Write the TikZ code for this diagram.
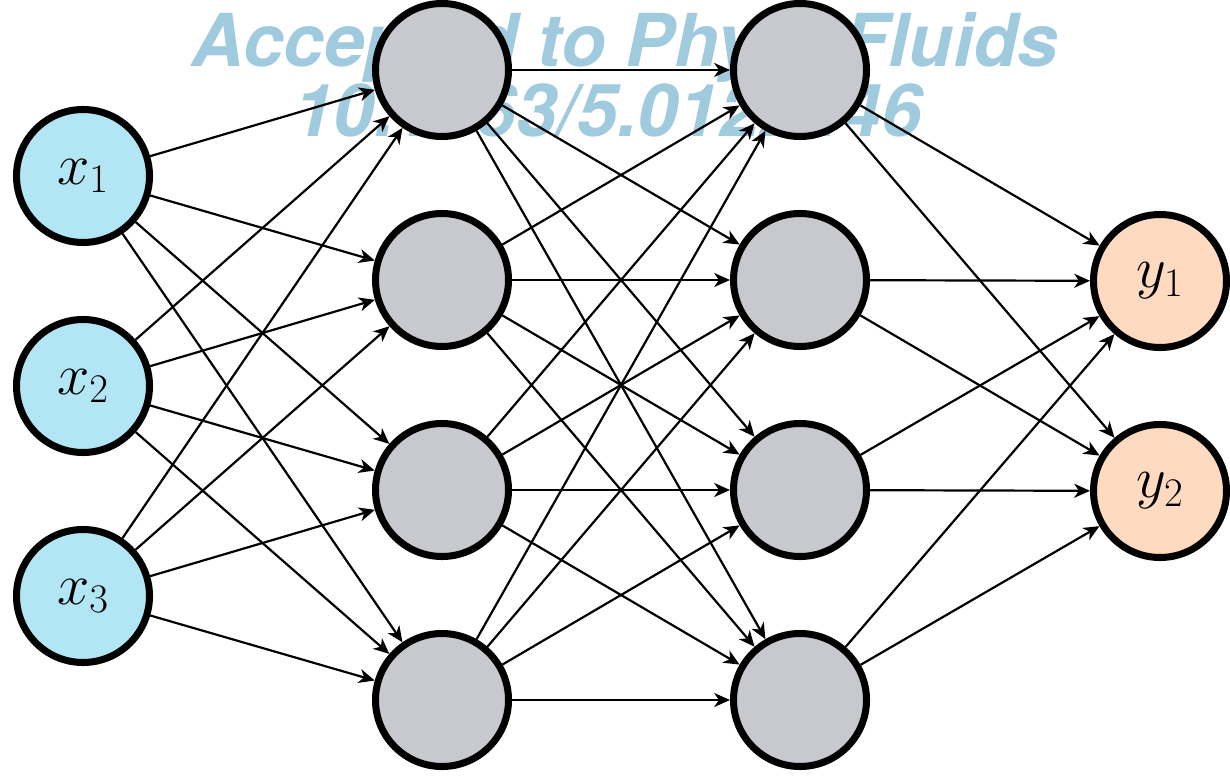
\RequirePackage{fix-cm}
\documentclass[tikz,border=0pt]{standalone}
\usepackage{fontspec}
\usepackage{tikz}
\usetikzlibrary{arrows.meta}

\newfontfamily\stampfont{TeX Gyre Heros}
\definecolor{inblue}{RGB}{178,230,245}
\definecolor{hidgray}{RGB}{200,201,206}
\definecolor{outpeach}{RGB}{254,218,192}
\definecolor{stampblue}{RGB}{160,202,222}

\begin{document}
\begin{tikzpicture}[>={Stealth[length=9pt,width=8pt,inset=2.7pt]}]
		\tikzstyle{neuron}=[circle, line width=4pt, draw=black, minimum size=2.66cm, inner sep=0pt, font=\fontsize{33}{40}\selectfont]
		\tikzstyle{in neuron}=[neuron, fill=inblue]
		\tikzstyle{hid neuron}=[neuron, fill=hidgray]
		\tikzstyle{out neuron}=[neuron, fill=outpeach]
		\tikzstyle{conn}=[->, line width=1.25pt]
		\tikzstyle{stamp}=[text=stampblue, font=\stampfont\bfseries\itshape\fontsize{41.5}{48}\selectfont, anchor=base, inner sep=0pt]

		\useasboundingbox (0,0) rectangle (24.6,15.58);

		% watermark behind everything
		\node [stamp] (wm1) at (12.5,14.24) {Accepted to Phys. Fluids};
		\node [stamp] (wm2) at (12.15,12.84) {10.1063/5.0122446};

		% input layer
		\node [in neuron] (x1) at (1.66,12.06) {$x_1$};
		\node [in neuron] (x2) at (1.66,7.86) {$x_2$};
		\node [in neuron] (x3) at (1.66,3.66) {$x_3$};

		% hidden layers
		\node [hid neuron] (h1) at (8.84,14.18) {};
		\node [hid neuron] (h2) at (8.84,9.98) {};
		\node [hid neuron] (h3) at (8.84,5.78) {};
		\node [hid neuron] (h4) at (8.84,1.58) {};
		\node [hid neuron] (g1) at (16.0,14.18) {};
		\node [hid neuron] (g2) at (16.0,9.98) {};
		\node [hid neuron] (g3) at (16.0,5.78) {};
		\node [hid neuron] (g4) at (16.0,1.58) {};

		% output layer
		\node [out neuron] (y1) at (23.2,9.96) {$y_1$};
		\node [out neuron] (y2) at (23.2,5.76) {$y_2$};

		% connections
		\foreach \i in {1,2,3}
			\foreach \j in {1,...,4}
				\draw [conn] (x\i) -- (h\j);
		\foreach \i in {1,...,4}
			\foreach \j in {1,...,4}
				\draw [conn] (h\i) -- (g\j);
		\foreach \i in {1,...,4}
			\foreach \j in {1,2}
				\draw [conn] (g\i) -- (y\j);
	\end{tikzpicture}
\end{document}
